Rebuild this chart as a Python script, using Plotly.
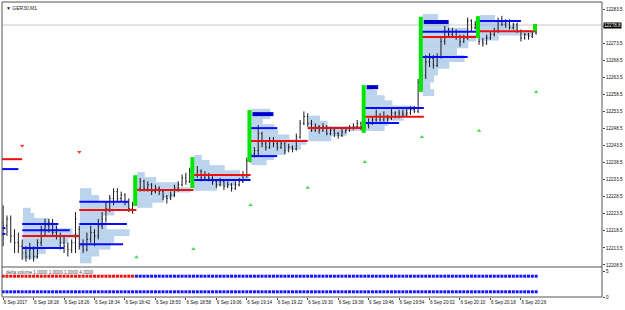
import plotly.graph_objects as go

# ---------------- data ----------------
minutes = list(range(0, 141))
opens = [12221,12220,12222,12217,12215,12214,12212,12211,12213,12211,12215,12219,12220,12221,12218,12217,12215,12214,12213,12215,
         12219,12214,12213,12216,12218,12217,12220,12222,12225,12228,12230,12228,12229,12227,12225,
         12226,12231,12233,12231,12232,12230,12231,12230,12228.5,12228,12229,12231,12232,12234,12233,
         12236,12235,12236,12234,12235,12234,12233,12232,12233,12231.5,12232,12231,12232,12233,12235,
         12239,12241,12242,12247,12244,12243,12245,12244,12243,12244,12242,12243,12242.5,12246,12250,
         12252,12250,12248,12249,12248,12249,12247,12248,12247,12246.5,12247.5,12248,12248.5,12249,12250,
         12249,12249.5,12250,12251,12252,12251,12252,12251.5,12253,12252,12253,12252.5,12253,12254,12253.5,
         12262,12264,12268,12269,12267,12269.5,12274,12277,12276,12277,12275.5,12274,12275,12280,12278,
         12279,12274,12273.5,12275,12276,12277,12280,12279,12280,12278,12279,12277,12275,12276,12275.5,12276.5]
highs = [12226,12223,12223,12219,12218,12216,12214,12215,12214,12216,12220,12222,12222,12222,12220,12218,12217,12215,12216,12224,
         12220,12216,12218,12220,12219,12222,12224,12227,12229,12231,12231,12230,12229.5,12228,12227,
         12233,12234,12233.5,12233,12232.5,12232,12231.5,12230.5,12229,12230,12232,12233,12235,12235.5,12237,
         12237,12237.5,12236.5,12236,12235.5,12234.5,12233.5,12234,12233.5,12233,12232.5,12233,12234,12236,12240,
         12242,12243,12249.5,12247.5,12245,12246,12246,12245,12245,12244.5,12244,12243.5,12247,12251,12253.5,
         12253,12251,12250,12249.5,12250,12249.5,12249,12248.5,12247.5,12248.5,12249,12249.5,12250,12251,12250.5,
         12251,12251.5,12252,12254,12253,12253.5,12252.5,12254.5,12253.5,12254,12254,12254.5,12255,12255,12263,
         12266,12270,12270.5,12270,12270.5,12275,12278.5,12278,12278,12277.5,12276,12276,12281,12280.5,12280,
         12279.5,12275,12276,12277,12278,12281,12281.5,12280.5,12280.5,12279.5,12279.5,12277.5,12276.5,12276.5,12277,12279]
lows = [12214,12217,12215,12212,12212,12210,12209.5,12210,12209.5,12210.5,12214,12217,12218,12217,12216,12213,12212,12211,12212,12212,
        12213,12212,12212.5,12215,12214,12216,12219,12221,12224,12226,12227,12227,12226,12224,12223.5,
        12226,12230,12230,12230,12229,12229.5,12229,12227.5,12226.5,12227.5,12228.5,12230,12231.5,12232,12232.5,
        12233.5,12234,12233,12233.5,12233,12232,12231,12231.5,12230.5,12231,12230,12230.5,12231.5,12232.5,12234,
        12238.5,12240,12240.5,12243,12242,12242.5,12243,12242,12242.5,12241,12241.5,12241.5,12242,12245.5,12249.5,
        12249,12247.5,12247.5,12247,12247.5,12246.5,12246.5,12246,12245.5,12246,12247,12247.5,12248,12248.5,12248,
        12248,12248.5,12249.5,12250.5,12250.5,12250.5,12250.5,12251,12251.5,12251.5,12252,12252,12252.5,12253,12253,
        12259.5,12263,12266.5,12266,12266.5,12269,12273,12275,12275.5,12274.5,12272.5,12273.5,12274.5,12277,12277.5,
        12273,12272.5,12273,12274.5,12275.5,12276.5,12278.5,12278,12277.5,12277.5,12276.5,12274,12274.5,12274.5,12275,12276]
closes = [12220,12222,12217,12215,12214,12212,12211,12213,12211,12215,12219,12220,12221,12218,12217,12215,12214,12213,12215,12222,
          12214,12213,12216,12218,12217,12220,12222,12225,12228,12230,12228,12229,12227,12225,12226,
          12231,12233,12231,12232,12230,12231,12230,12228.5,12228,12229,12231,12232,12234,12233,12236,
          12235,12236,12234,12235,12234,12233,12232,12233,12231.5,12232,12231,12232,12233,12235,12239,
          12241,12242,12247,12244,12243,12245,12244,12243,12244,12242,12243,12242.5,12246,12250,12252,
          12250,12248,12249,12248,12249,12247,12248,12247,12246.5,12247.5,12248,12248.5,12249,12250,12249,
          12249.5,12250,12251,12252,12251,12252,12251.5,12253,12252,12253,12252.5,12253,12254,12253.5,12262,
          12264,12268,12269,12267,12269.5,12274,12277,12276,12277,12275.5,12274,12275,12280,12278,12279,
          12274,12273.5,12275,12276,12277,12280,12279,12280,12278,12279,12277,12275,12276,12275.5,12276.5,12278.8]

# volume profiles (session start minute, price levels, widths in minutes)
prof_start = [5, 20, 35, 50, 65, 80, 95, 110, 125]
prof_step = [1.5, 2.0, 1.5, 1.5, 1.5, 1.5, 1.5, 2.0, 1.5]
prof_levels = [
    [12224.5, 12223, 12221.5, 12220, 12218.5, 12217, 12215.5, 12214, 12212.5, 12211],
    [12230, 12228, 12226, 12224, 12222, 12220, 12218, 12216, 12214, 12212, 12210],
    [12235, 12233.5, 12232, 12230.5, 12229, 12227.5, 12226],
    [12240, 12238.5, 12237, 12235.5, 12234, 12232.5, 12231],
    [12253.5, 12252, 12250.5, 12249, 12247.5, 12246, 12244.5, 12243, 12241.5, 12240, 12238.5],
    [12251.5, 12250, 12248.5, 12247, 12245.5],
    [12260.5, 12259, 12257.5, 12256, 12254.5, 12253, 12251.5, 12250, 12248.5],
    [12281, 12279, 12277, 12275, 12273, 12271, 12269, 12267, 12265, 12263, 12261, 12259],
    [12281, 12279.5, 12278, 12276.5, 12275],
]
prof_widths = [
    [2, 3, 7, 9, 13, 14.5, 12, 10, 6, 4],
    [3, 5, 13, 9, 6, 7, 13, 9, 8, 5, 3],
    [2, 5, 11, 14, 10, 7, 4],
    [2, 4, 8, 12, 14.5, 11, 6],
    [5, 5, 3, 6, 7, 10, 14.5, 13, 9, 6, 4],
    [3, 5, 14, 10, 6],
    [2, 3, 5, 7, 13, 11, 10, 6, 5],
    [4, 7, 12, 14, 12, 9, 11, 7, 4, 3, 2, 3],
    [4, 8, 10, 14, 5],
]

# point of control (red) lines
poc_start = [-0.3, 5, 20, 35, 50, 65, 80, 95, 110, 125]
poc_end = [5, 20, 35, 50, 65, 80, 95, 110.5, 125, 140]
poc_price = [12239.5, 12217.0, 12224.6, 12230.5, 12234.9, 12244.8, 12248.6, 12251.9, 12275.3, 12277.0]

# value-area (thin blue) lines
va_start = [-0.3, -0.3, -0.3, 5, 5, 5, 20, 20, 20, 50, 65, 65, 95, 95, 110, 110, 125]
va_end = [4, 0.6, 0.6, 14.5, 17.5, 16, 33, 32.5, 31.5, 65, 72, 72, 110.5, 104, 124.5, 122, 136]
va_price = [12236.6, 12219.3, 12217.6, 12220.5, 12218.7, 12213.5, 12227.0, 12220.5, 12214.6,
            12233.4, 12248.6, 12240.4, 12254.5, 12250.1, 12276.8, 12269.4, 12280.0]

# session high (thick dark blue) lines
hi_start = [65.5, 95.5, 110.5]
hi_end = [71, 98.5, 117]
hi_price = [12252.7, 12260.6, 12279.7]

# green session range bars
green_m = [35, 50, 65, 95, 110, 125, 140]
green_lo = [12225.9, 12231.0, 12238.7, 12247.2, 12259.2, 12275.0, 12277.0]
green_hi = [12234.8, 12240.1, 12253.9, 12261.2, 12281.2, 12281.4, 12279.1]

# signal arrows
up_m = [35, 50, 65, 80, 95, 110, 125, 140]
up_price = [12210.8, 12213.2, 12226.1, 12231.1, 12238.7, 12246.0, 12247.8, 12259.2]
down_m = [5, 20]
down_price = [12243.4, 12241.6]

# delta volume sub-panel
delta_row_hi = 4
delta_row_lo = 1
delta_red_until = 35

current_price = 12278.8
price_ticks = [12208.5 + 5 * i for i in range(16)]
time_tickvals = list(range(0, 137, 8))
time_ticktext = ["6 Sep 2017", "6 Sep 18:18", "6 Sep 18:26", "6 Sep 18:34", "6 Sep 18:42", "6 Sep 18:50",
                 "6 Sep 18:58", "6 Sep 19:06", "6 Sep 19:14", "6 Sep 19:22", "6 Sep 19:30", "6 Sep 19:38",
                 "6 Sep 19:46", "6 Sep 19:54", "6 Sep 20:02", "6 Sep 20:10", "6 Sep 20:18", "6 Sep 20:26"]

# ---------------- figure ----------------
fig = go.Figure()
FONT = "Liberation Sans"
TS = 4.6

# profiles
for s, st, lv, wd in zip(prof_start, prof_step, prof_levels, prof_widths):
    fig.add_trace(go.Bar(orientation="h", y=lv, x=wd, base=s + 0.2, width=st,
                         marker=dict(color="rgba(120,168,220,0.5)", line=dict(width=0)),
                         xaxis="x", yaxis="y", hoverinfo="skip"))

# price bars
fig.add_trace(go.Ohlc(x=minutes, open=opens, high=highs, low=lows, close=closes,
                      increasing=dict(line=dict(color="#1a1a1a", width=1)),
                      decreasing=dict(line=dict(color="#1a1a1a", width=1)),
                      tickwidth=0.25, xaxis="x", yaxis="y"))

def seg_xy(starts, ends, prices):
    xs, ys = [], []
    for a, b, p in zip(starts, ends, prices):
        xs += [a, b, None]
        ys += [p, p, None]
    return xs, ys

xs, ys = seg_xy(va_start, va_end, va_price)
fig.add_trace(go.Scatter(x=xs, y=ys, mode="lines", line=dict(color="#0a0aff", width=2), xaxis="x", yaxis="y"))
xs, ys = seg_xy(poc_start, poc_end, poc_price)
fig.add_trace(go.Scatter(x=xs, y=ys, mode="lines", line=dict(color="#ee1010", width=2), xaxis="x", yaxis="y"))
xs, ys = seg_xy(hi_start, hi_end, hi_price)
fig.add_trace(go.Scatter(x=xs, y=ys, mode="lines", line=dict(color="#0000cc", width=4), xaxis="x", yaxis="y"))

gx, gy = [], []
for m, lo, hi in zip(green_m, green_lo, green_hi):
    gx += [m - 0.3, m - 0.3, None]
    gy += [lo, hi, None]
fig.add_trace(go.Scatter(x=gx, y=gy, mode="lines", line=dict(color="#00e600", width=4), xaxis="x", yaxis="y"))

fig.add_trace(go.Scatter(x=up_m, y=up_price, mode="markers",
                         marker=dict(symbol="triangle-up", size=4, color="#44dd44"), xaxis="x", yaxis="y"))
fig.add_trace(go.Scatter(x=down_m, y=down_price, mode="markers",
                         marker=dict(symbol="triangle-down", size=4, color="#ff4040"), xaxis="x", yaxis="y"))

# sub panel markers
fig.add_trace(go.Scatter(x=minutes, y=[delta_row_hi] * len(minutes), mode="markers",
                         marker=dict(symbol="square", size=3,
                                     color=["#ee1010" if m < delta_red_until else "#1515ff" for m in minutes]),
                         xaxis="x", yaxis="y2"))
fig.add_trace(go.Scatter(x=minutes, y=[delta_row_lo] * len(minutes), mode="markers",
                         marker=dict(symbol="square", size=3, color="#1515ff"), xaxis="x", yaxis="y2"))

split = 30 / 295.0
price_text = ["" if abs(v - current_price) < 1.5 else f"{v:.1f}" for v in price_ticks]
fig.update_layout(
    width=625, height=310, margin=dict(l=2, r=21, t=2, b=13),
    paper_bgcolor="white", plot_bgcolor="white", showlegend=False, barmode="overlay",
    font=dict(family=FONT, size=TS, color="#111"),
    xaxis=dict(domain=[0, 1], range=[-0.3, 157.3], anchor="y2", showgrid=False, zeroline=False,
               tickvals=time_tickvals, ticktext=time_ticktext, ticks="outside", ticklen=2,
               tickcolor="#444", ticklabelposition="outside right", tickangle=0,
               rangeslider=dict(visible=False),
               tickfont=dict(size=TS, family=FONT), showline=False),
    yaxis=dict(domain=[split, 1], range=[12207.91, 12285.55], side="right", anchor="x",
               showgrid=False, zeroline=False, tickvals=price_ticks,
               ticktext=price_text, ticks="outside", ticklen=2, tickcolor="#444",
               tickfont=dict(size=TS, family=FONT)),
    yaxis2=dict(domain=[0, split], range=[0, 5.77], side="right", anchor="x", showgrid=False,
                zeroline=False, tickvals=[0, 5], ticktext=["0", "5"], ticks="outside", ticklen=2,
                tickcolor="#444", tickfont=dict(size=TS, family=FONT)),
)

shapes = [
    dict(type="rect", xref="paper", yref="paper", x0=0, x1=1, y0=0, y1=1,
         line=dict(color="#555", width=1)),
    dict(type="line", xref="paper", yref="paper", x0=0, x1=1, y0=split, y1=split,
         line=dict(color="#555", width=1)),
    dict(type="line", xref="paper", yref="y", x0=0, x1=1, y0=current_price, y1=current_price,
         line=dict(color="#c8c8c8", width=1), layer="below"),
]
fig.update_layout(shapes=shapes)

fig.add_annotation(xref="paper", yref="y", x=1.0, y=current_price, xanchor="left", yanchor="middle",
                   text=f"{current_price:.1f}", showarrow=False, bgcolor="black",
                   font=dict(color="white", size=TS, family=FONT), borderpad=0, xshift=1)
fig.add_annotation(xref="paper", yref="paper", x=0.003, y=1.0, xanchor="left", yanchor="top",
                   text="▼ GER30,M1", showarrow=False, font=dict(size=TS + 0.4, color="#222", family=FONT), yshift=-1)
fig.add_annotation(xref="paper", yref="paper", x=0.003, y=split, xanchor="left", yanchor="top",
                   text="delta volume 1.0000 1.0000 1.0000 4.0000", showarrow=False,
                   font=dict(size=TS, color="#444", family=FONT), yshift=-1)

fig.write_html("out.html")
